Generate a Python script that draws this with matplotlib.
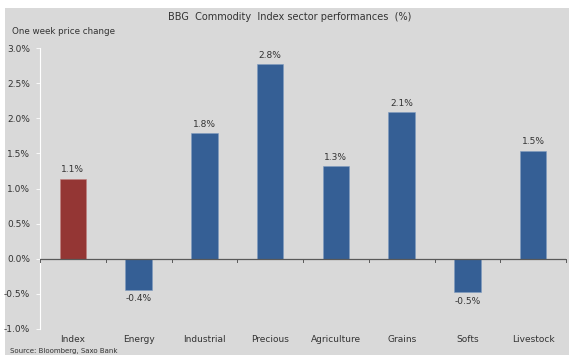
import matplotlib
matplotlib.use("Agg")
import matplotlib.pyplot as plt
from matplotlib.patches import Rectangle
import numpy as np

categories = ["Index", "Energy", "Industrial", "Precious", "Agriculture", "Grains", "Softs", "Livestock"]
values = [1.14, -0.44, 1.79, 2.77, 1.32, 2.09, -0.48, 1.54]
labels = ["1.1%", "-0.4%", "1.8%", "2.8%", "1.3%", "2.1%", "-0.5%", "1.5%"]
yticks = [-1.0, -0.5, 0.0, 0.5, 1.0, 1.5, 2.0, 2.5, 3.0]
ytick_labels = ["-1.0%", "-0.5%", "0.0%", "0.5%", "1.0%", "1.5%", "2.0%", "2.5%", "3.0%"]

RED = "#943634"
BLUE = "#355f95"
BG = "#d9d9d9"
TXT = "#333333"

W, H = 569, 355
fig = plt.figure(figsize=(W / 100, H / 100), dpi=100)
fig.patch.set_facecolor("white")
fig.add_artist(Rectangle((5 / W, 0), 1 - 5 / W, 1 - 8 / H, transform=fig.transFigure,
                         facecolor=BG, edgecolor="none", zorder=0))

ax = fig.add_axes([40 / W, (H - 329) / H, (566 - 40) / W, (329 - 48) / H])
ax.set_facecolor("none")

x = np.arange(len(categories))
colors = [RED] + [BLUE] * (len(categories) - 1)
bars = ax.bar(x, values, width=0.4, color=colors, edgecolor="#7f9cc0", linewidth=0.4, zorder=2)
bars[0].set_edgecolor("#c08080")

ax.set_xlim(-0.5, len(categories) - 0.5)
ax.set_ylim(-1.0, 3.0)

for xi, v, lab in zip(x, values, labels):
    if v >= 0:
        ax.text(xi, v + 0.06, lab, ha="center", va="bottom", fontsize=6.5, color=TXT)
    else:
        ax.text(xi, v - 0.06, lab, ha="center", va="top", fontsize=6.5, color=TXT)

# zero line with category-boundary ticks
ax.axhline(0, color="#595959", linewidth=0.9, zorder=3)
for b in np.arange(-0.5, len(categories), 1.0):
    ax.plot([b, b], [0, -0.04], color="#595959", linewidth=0.7, zorder=3, clip_on=False)

for s in ["top", "right", "bottom"]:
    ax.spines[s].set_visible(False)
ax.spines["left"].set_color("white")
ax.spines["left"].set_linewidth(0.8)

ax.set_yticks(yticks)
ax.set_yticklabels(ytick_labels)
ax.tick_params(axis="y", colors="white", length=3, width=0.6, labelsize=6.5, labelcolor=TXT, pad=4)

ax.set_xticks(x)
ax.set_xticklabels(categories)
ax.tick_params(axis="x", length=0, labelsize=6.5, labelcolor=TXT, pad=4)

fig.text(290 / W, 1 - 17 / H, "BBG  Commodity  Index sector performances  (%)", ha="center", va="center",
         fontsize=7, color=TXT)
fig.text(12 / W, 1 - 32 / H, "One week price change", ha="left", va="center", fontsize=6.3, color=TXT)
fig.text(10 / W, 1 / H, "Source: Bloomberg, Saxo Bank", ha="left", va="bottom", fontsize=5, color=TXT)

fig.savefig("out.png", dpi=100, facecolor=fig.get_facecolor())
